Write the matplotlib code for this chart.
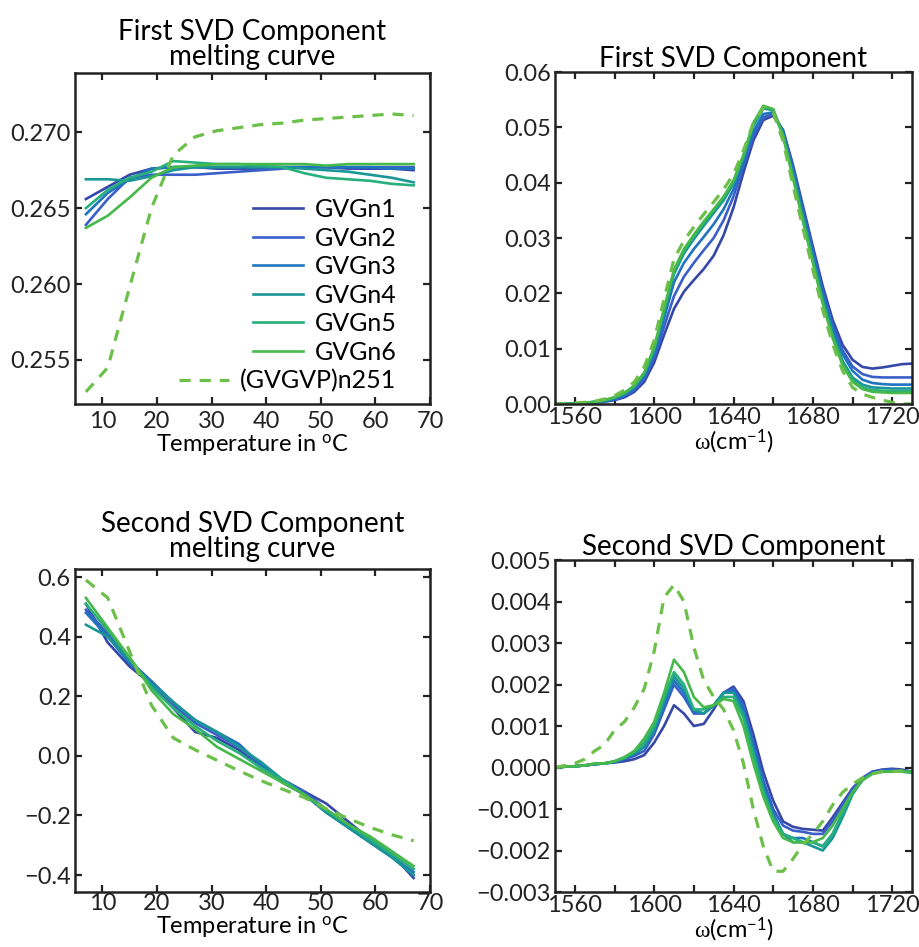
import numpy as np
import matplotlib
matplotlib.use('Agg')
import matplotlib.pyplot as plt
from matplotlib.ticker import FuncFormatter

plt.rcParams['font.family'] = ['Lato', 'DejaVu Sans']
plt.rcParams['mathtext.fontset'] = 'custom'
plt.rcParams['mathtext.rm'] = 'Lato'
plt.rcParams['mathtext.it'] = 'Liberation Serif'

names = ['GVGn1', 'GVGn2', 'GVGn3', 'GVGn4', 'GVGn5', 'GVGn6', '(GVGVP)n251']
colors = ['#3548a8', '#3b5fc8', '#1f73c0', '#1a9696', '#27b07c', '#47b84a', '#6cc04a']

# temperatures (C)
temp = [7, 11, 15, 19, 23, 27, 31, 35, 39, 43, 47, 51, 55, 59, 63, 67]

# first SVD component melting curves
melt1 = [
    [0.2656, 0.2664, 0.2672, 0.2676, 0.2677, 0.2677, 0.2676, 0.2676, 0.2676, 0.2677, 0.2677, 0.2677, 0.2676, 0.2676, 0.2676, 0.2675],
    [0.2639, 0.2656, 0.2670, 0.2672, 0.2672, 0.2672, 0.2673, 0.2674, 0.2675, 0.2676, 0.2677, 0.2677, 0.2677, 0.2677, 0.2677, 0.2677],
    [0.2646, 0.2660, 0.2669, 0.2676, 0.2677, 0.2677, 0.2677, 0.2677, 0.2677, 0.2677, 0.2677, 0.2677, 0.2677, 0.2677, 0.2676, 0.2676],
    [0.2669, 0.2669, 0.2668, 0.2671, 0.2675, 0.2677, 0.2677, 0.2677, 0.2677, 0.2677, 0.2676, 0.2675, 0.2674, 0.2672, 0.2670, 0.2667],
    [0.2650, 0.2662, 0.2670, 0.2674, 0.2681, 0.2680, 0.2679, 0.2679, 0.2678, 0.2677, 0.2673, 0.2670, 0.2669, 0.2668, 0.2666, 0.2665],
    [0.2637, 0.2645, 0.2657, 0.2670, 0.2677, 0.2678, 0.2679, 0.2679, 0.2679, 0.2679, 0.2679, 0.2678, 0.2679, 0.2679, 0.2679, 0.2679],
    [0.2529, 0.2545, 0.2598, 0.2650, 0.2685, 0.2697, 0.2701, 0.2703, 0.2705, 0.2706, 0.2708, 0.2709, 0.2710, 0.2711, 0.2712, 0.2711],
]

# second SVD component melting curves
melt2 = [
    [0.51, 0.38, 0.30, 0.24, 0.16, 0.08, 0.06, 0.02, -0.04, -0.08, -0.12, -0.16, -0.22, -0.28, -0.33, -0.41],
    [0.49, 0.41, 0.32, 0.25, 0.17, 0.11, 0.07, 0.03, -0.03, -0.08, -0.12, -0.18, -0.24, -0.29, -0.34, -0.40],
    [0.48, 0.40, 0.31, 0.25, 0.18, 0.12, 0.08, 0.04, -0.03, -0.09, -0.13, -0.19, -0.24, -0.29, -0.34, -0.39],
    [0.44, 0.40, 0.32, 0.24, 0.18, 0.12, 0.08, 0.03, -0.02, -0.08, -0.13, -0.19, -0.24, -0.29, -0.34, -0.40],
    [0.51, 0.42, 0.33, 0.23, 0.16, 0.10, 0.05, 0.01, -0.04, -0.08, -0.13, -0.18, -0.23, -0.28, -0.33, -0.38],
    [0.53, 0.43, 0.33, 0.22, 0.14, 0.09, 0.03, -0.01, -0.05, -0.09, -0.13, -0.18, -0.23, -0.27, -0.32, -0.37],
    [0.59, 0.53, 0.35, 0.17, 0.06, 0.02, -0.015, -0.05, -0.083, -0.112, -0.14, -0.178, -0.21, -0.24, -0.265, -0.285],
]

# wavenumbers (cm-1), 1550..1730 every 5
wn = list(range(1550, 1735, 5))

spec1 = [
    [0.0000, 0.0000, 0.0001, 0.0001, 0.0002, 0.0004, 0.0007, 0.0012, 0.0022, 0.0040, 0.0075, 0.0125, 0.0172, 0.0203, 0.0224, 0.0244, 0.0268, 0.0305, 0.0355, 0.0418, 0.0476, 0.0513, 0.0521, 0.0495, 0.0432, 0.0358, 0.0285, 0.0213, 0.0152, 0.0107, 0.0080, 0.0067, 0.0064, 0.0066, 0.0069, 0.0072, 0.0073],
    [0.0000, 0.0000, 0.0001, 0.0001, 0.0003, 0.0005, 0.0008, 0.0014, 0.0025, 0.0045, 0.0083, 0.0140, 0.0195, 0.0230, 0.0255, 0.0278, 0.0300, 0.0332, 0.0375, 0.0430, 0.0485, 0.0518, 0.0524, 0.0494, 0.0428, 0.0352, 0.0278, 0.0205, 0.0143, 0.0097, 0.0068, 0.0054, 0.0049, 0.0048, 0.0048, 0.0048, 0.0048],
    [0.0000, 0.0000, 0.0001, 0.0002, 0.0003, 0.0005, 0.0009, 0.0016, 0.0028, 0.0050, 0.0090, 0.0155, 0.0220, 0.0255, 0.0280, 0.0302, 0.0325, 0.0352, 0.0388, 0.0438, 0.0492, 0.0524, 0.0527, 0.0492, 0.0423, 0.0347, 0.0272, 0.0199, 0.0137, 0.0090, 0.0060, 0.0044, 0.0038, 0.0036, 0.0035, 0.0035, 0.0035],
    [0.0000, 0.0000, 0.0001, 0.0002, 0.0004, 0.0006, 0.0011, 0.0018, 0.0031, 0.0054, 0.0097, 0.0165, 0.0235, 0.0272, 0.0298, 0.0322, 0.0345, 0.0368, 0.0398, 0.0445, 0.0502, 0.0534, 0.0531, 0.0487, 0.0414, 0.0338, 0.0263, 0.0189, 0.0127, 0.0078, 0.0048, 0.0035, 0.0030, 0.0029, 0.0028, 0.0028, 0.0028],
    [0.0000, 0.0000, 0.0001, 0.0002, 0.0004, 0.0007, 0.0012, 0.0020, 0.0033, 0.0056, 0.0100, 0.0170, 0.0240, 0.0277, 0.0303, 0.0327, 0.0350, 0.0373, 0.0402, 0.0448, 0.0505, 0.0537, 0.0532, 0.0485, 0.0410, 0.0333, 0.0258, 0.0184, 0.0122, 0.0073, 0.0043, 0.0030, 0.0025, 0.0024, 0.0023, 0.0023, 0.0023],
    [0.0000, 0.0000, 0.0001, 0.0002, 0.0004, 0.0007, 0.0012, 0.0020, 0.0033, 0.0057, 0.0103, 0.0173, 0.0243, 0.0280, 0.0306, 0.0330, 0.0352, 0.0375, 0.0404, 0.0450, 0.0508, 0.0539, 0.0533, 0.0484, 0.0408, 0.0330, 0.0255, 0.0181, 0.0119, 0.0070, 0.0040, 0.0027, 0.0022, 0.0021, 0.0020, 0.0020, 0.0020],
    [0.0000, 0.0001, 0.0002, 0.0003, 0.0005, 0.0009, 0.0015, 0.0025, 0.0040, 0.0067, 0.0115, 0.0190, 0.0262, 0.0295, 0.0320, 0.0343, 0.0365, 0.0388, 0.0415, 0.0458, 0.0508, 0.0536, 0.0527, 0.0475, 0.0395, 0.0318, 0.0243, 0.0170, 0.0108, 0.0060, 0.0030, 0.0018, 0.0012, 0.0007, 0.0003, 0.0000, 0.0000],
]

spec2 = [
    [0.0, 0.00002, 0.00003, 0.00005, 0.00008, 0.0001, 0.00012, 0.00015, 0.0002, 0.0003, 0.0006, 0.0010, 0.0015, 0.0013, 0.0010, 0.00105, 0.0014, 0.0018, 0.00195, 0.0016, 0.0008, -0.0001, -0.0008, -0.0013, -0.00143, -0.00148, -0.0015, -0.00152, -0.0012, -0.00085, -0.0005, -0.00025, -0.0001, -0.00005, -0.00003, -0.00005, -0.0001],
    [0.0, 0.00002, 0.00003, 0.00005, 0.00008, 0.0001, 0.00013, 0.0002, 0.00028, 0.0004, 0.0008, 0.0014, 0.0020, 0.0017, 0.0013, 0.0013, 0.0015, 0.0018, 0.0019, 0.0015, 0.0006, -0.0003, -0.0010, -0.0014, -0.00152, -0.00155, -0.0016, -0.0016, -0.0013, -0.0009, -0.00052, -0.00026, -0.00011, -0.00006, -0.00005, -0.00008, -0.0001],
    [0.0, 0.00002, 0.00003, 0.00005, 0.00008, 0.0001, 0.00014, 0.00022, 0.00032, 0.0005, 0.0009, 0.0015, 0.0021, 0.0018, 0.00135, 0.0013, 0.0015, 0.0018, 0.00185, 0.0014, 0.0005, -0.0004, -0.0011, -0.0016, -0.0017, -0.0017, -0.0018, -0.0019, -0.0016, -0.0011, -0.0006, -0.0003, -0.00013, -0.00008, -0.00008, -0.0001, -0.0001],
    [0.0, 0.00002, 0.00003, 0.00005, 0.00008, 0.0001, 0.00014, 0.00022, 0.00034, 0.0005, 0.0009, 0.0016, 0.0022, 0.0019, 0.0014, 0.0013, 0.0015, 0.0018, 0.0018, 0.0013, 0.0004, -0.0005, -0.0012, -0.0016, -0.0018, -0.0018, -0.0019, -0.0020, -0.0017, -0.0012, -0.00065, -0.0003, -0.00014, -0.0001, -0.0001, -0.0001, -0.00012],
    [0.0, 0.00002, 0.00003, 0.00005, 0.00009, 0.0001, 0.00015, 0.00024, 0.00037, 0.0006, 0.0010, 0.0017, 0.0023, 0.0020, 0.0014, 0.0014, 0.0015, 0.0017, 0.0017, 0.0012, 0.0003, -0.0006, -0.0012, -0.0016, -0.0017, -0.0018, -0.0018, -0.0019, -0.0016, -0.0011, -0.0006, -0.0003, -0.00015, -0.0001, -0.0001, -0.0001, -0.00012],
    [0.0, 0.00002, 0.00003, 0.00005, 0.0001, 0.0001, 0.00015, 0.00025, 0.0004, 0.0007, 0.0011, 0.0018, 0.0026, 0.0023, 0.0017, 0.00145, 0.0015, 0.00165, 0.0016, 0.0010, 0.0001, -0.0007, -0.0013, -0.0017, -0.0018, -0.0018, -0.0018, -0.0017, -0.0014, -0.0010, -0.0006, -0.0003, -0.00015, -0.0001, -0.0001, -0.0001, -0.0001],
    [0.0, 0.00005, 0.0001, 0.0002, 0.0004, 0.00055, 0.0009, 0.0011, 0.00145, 0.0019, 0.0028, 0.0041, 0.0044, 0.0040, 0.0029, 0.0021, 0.0017, 0.0014, 0.0009, 0.0001, -0.0010, -0.0019, -0.0025, -0.0025, -0.0022, -0.00186, -0.0016, -0.0013, -0.0009, -0.0006, -0.0004, -0.00025, -0.00015, -0.0001, -0.0001, -0.00008, -0.00005],
]

W, H = 920, 947
fig = plt.figure(figsize=(W / 100, H / 100), dpi=100)

def box(l, t, r, b):
    return [l / W, 1 - b / H, (r - l) / W, (b - t) / H]

ax1 = fig.add_axes(box(75, 73, 430, 404))
ax2 = fig.add_axes(box(555, 72, 912, 404))
ax3 = fig.add_axes(box(75, 569, 430, 892))
ax4 = fig.add_axes(box(555, 560, 912, 892))

tick_fs = 17
title_fs = 20
lab_fs = 17

def fmt(nd):
    return FuncFormatter(lambda v, p: ('%.*f' % (nd, v)).replace('-', '\u2212'))

def style(ax, xpad):
    for s in ax.spines.values():
        s.set_linewidth(1.8)
        s.set_color('#222222')
    ax.tick_params(which='both', direction='in', top=True, right=True, length=5, width=1.6,
                   labelsize=tick_fs, colors='#222222')
    ax.tick_params(axis='y', pad=3)
    ax.tick_params(axis='x', pad=xpad)

def draw(ax, x, ys):
    for i, y in enumerate(ys):
        if i == 6:
            ax.plot(x, y, color=colors[i], lw=2.3, ls=(0, (3.5, 2.8)), label=names[i])
        else:
            ax.plot(x, y, color=colors[i], lw=1.9, label=names[i])

# top left
draw(ax1, temp, melt1)
style(ax1, 5)
ax1.set_xlim(5, 70)
ax1.set_ylim(0.2521, 0.2739)
ax1.set_xticks(range(10, 71, 10))
ax1.set_yticks([0.255, 0.260, 0.265, 0.270])
ax1.yaxis.set_major_formatter(fmt(3))
ax1.set_title('First SVD Component\nmelting curve', fontsize=title_fs, linespacing=0.95, pad=6)
ax1.set_xlabel(r'Temperature in $^{\mathrm{o}}$C', fontsize=lab_fs, labelpad=0)
leg = ax1.legend(loc='lower right', bbox_to_anchor=(0.905, 0.035), frameon=False,
                 fontsize=18, handlelength=2.0, handletextpad=0.45, labelspacing=0.22,
                 borderpad=0, borderaxespad=0)
for col in leg._legend_handle_box.get_children():
    col.align = 'right'

# top right
draw(ax2, wn, spec1)
style(ax2, 2)
ax2.set_xlim(1550, 1730)
ax2.set_ylim(0, 0.06)
ax2.set_xticks(range(1560, 1721, 40))
ax2.set_xticks(range(1580, 1721, 40), minor=True)
ax2.yaxis.set_major_formatter(fmt(2))
ax2.set_title('First SVD Component', fontsize=title_fs, pad=3)
ax2.set_xlabel(r'$\omega$(cm$^{-1}$)', fontsize=lab_fs, labelpad=0)

# bottom left
draw(ax3, temp, melt2)
style(ax3, 1)
ax3.set_xlim(5, 70)
ax3.set_ylim(-0.457, 0.627)
ax3.set_xticks(range(10, 71, 10))
ax3.set_yticks([-0.4, -0.2, 0.0, 0.2, 0.4, 0.6])
ax3.yaxis.set_major_formatter(fmt(1))
ax3.set_title('Second SVD Component\nmelting curve', fontsize=title_fs, linespacing=0.95, pad=9)
ax3.set_xlabel(r'Temperature in $^{\mathrm{o}}$C', fontsize=lab_fs, labelpad=0)

# bottom right
draw(ax4, wn, spec2)
style(ax4, 2)
ax4.set_xlim(1550, 1730)
ax4.set_ylim(-0.003, 0.005)
ax4.set_xticks(range(1560, 1721, 40))
ax4.set_xticks(range(1580, 1721, 40), minor=True)
ax4.set_yticks(np.arange(-0.003, 0.0051, 0.001))
ax4.yaxis.set_major_formatter(fmt(3))
ax4.set_title('Second SVD Component', fontsize=title_fs, pad=3)
ax4.set_xlabel(r'$\omega$(cm$^{-1}$)', fontsize=lab_fs, labelpad=0)

fig.savefig('out.png', dpi=100)
